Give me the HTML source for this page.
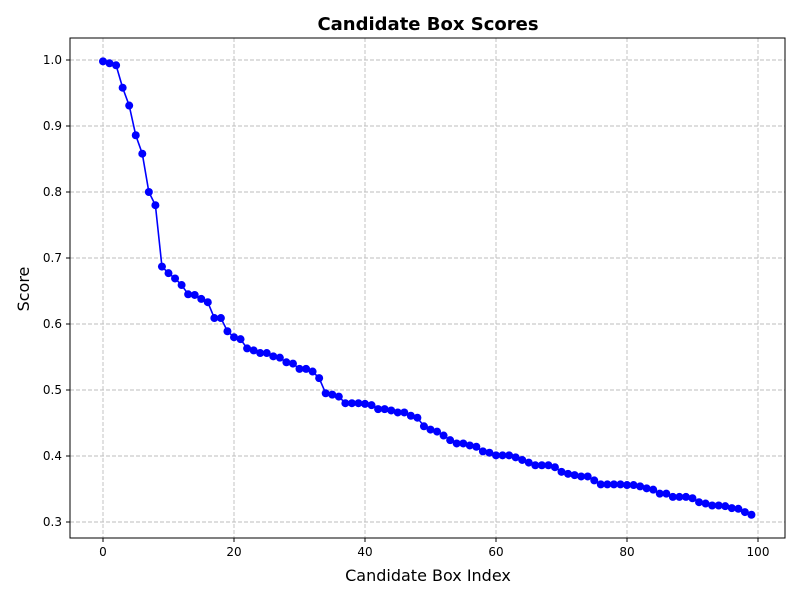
<!DOCTYPE html>
<html><head><meta charset="utf-8"><style>body{margin:0;background:#fff}svg{display:block;font-family:"DejaVu Sans","Liberation Sans",sans-serif}</style></head>
<body>
<svg id="chart" width="800" height="600"></svg>
<script>
const scores=[0.998,0.995,0.992,0.958,0.931,0.886,0.858,0.800,0.780,0.687,0.677,0.669,0.659,0.645,0.644,0.638,0.633,0.609,0.609,0.589,0.580,0.577,0.563,0.560,0.556,0.556,0.551,0.549,0.542,0.540,0.532,0.532,0.528,0.518,0.495,0.493,0.490,0.480,0.480,0.480,0.479,0.477,0.471,0.471,0.469,0.466,0.466,0.461,0.458,0.445,0.440,0.437,0.431,0.424,0.419,0.419,0.416,0.414,0.407,0.405,0.401,0.401,0.401,0.398,0.394,0.390,0.386,0.386,0.386,0.383,0.376,0.373,0.371,0.369,0.369,0.363,0.357,0.357,0.357,0.357,0.356,0.356,0.354,0.351,0.349,0.343,0.343,0.338,0.338,0.338,0.336,0.330,0.328,0.325,0.325,0.324,0.321,0.320,0.315,0.311];
const xTicks=[0,20,40,60,80,100];
const yTicks=[0.3,0.4,0.5,0.6,0.7,0.8,0.9,1.0];
const yTickLabels=["0.3","0.4","0.5","0.6","0.7","0.8","0.9","1.0"];
const L=70,R=785,T=38,B=538;
const xs=v=>103+v*6.55;
const ys=v=>60+(1-v)*660;
const svg=document.getElementById('chart');
const NS='http://www.w3.org/2000/svg';
function mk(tag,attrs,parent){const e=document.createElementNS(NS,tag);for(const k in attrs)e.setAttribute(k,attrs[k]);(parent||svg).appendChild(e);return e;}
const grid=mk('g',{});


xTicks.forEach(t=>{const l=mk('line',{x1:xs(t),x2:xs(t),y1:T,y2:B,stroke:'#bdbdbd','stroke-dasharray':'4,2','stroke-width':0.9},grid);


const tk=mk('line',{x1:xs(t),x2:xs(t),y1:B,y2:B+4,stroke:'#000'});


const tx=mk('text',{x:xs(t),y:B+18,'text-anchor':'middle','font-size':12});tx.textContent=t;

});
yTicks.forEach((t,i)=>{const l=mk('line',{x1:L,x2:R,y1:ys(t),y2:ys(t),stroke:'#bdbdbd','stroke-dasharray':'4,2','stroke-width':0.9},grid);


const tk=mk('line',{x1:L-4,x2:L,y1:ys(t),y2:ys(t),stroke:'#000'});


const tx=mk('text',{x:L-8,y:ys(t)+4,'text-anchor':'end','font-size':12});tx.textContent=yTickLabels[i];

});
const line=mk('polyline',{points:scores.map((v,i)=>xs(i)+','+ys(v)).join(' '),fill:'none',stroke:'#0000ff','stroke-width':1.6});


scores.forEach((v,i)=>{const c=mk('circle',{cx:xs(i),cy:ys(v),r:4,fill:'#0000ff'});

});
const frame=mk('rect',{x:L,y:T,width:R-L,height:B-T,fill:'none',stroke:'#000','stroke-width':1});


const title=mk('text',{x:428,y:30,'text-anchor':'middle','font-size':18,'font-weight':'bold'});title.textContent='Candidate Box Scores';


const xl=mk('text',{x:428,y:581,'text-anchor':'middle','font-size':16});xl.textContent='Candidate Box Index';


const yl=mk('text',{x:29,y:289,'text-anchor':'middle','font-size':16,transform:'rotate(-90 29 289)'});yl.textContent='Score';


</script>
</body></html>
